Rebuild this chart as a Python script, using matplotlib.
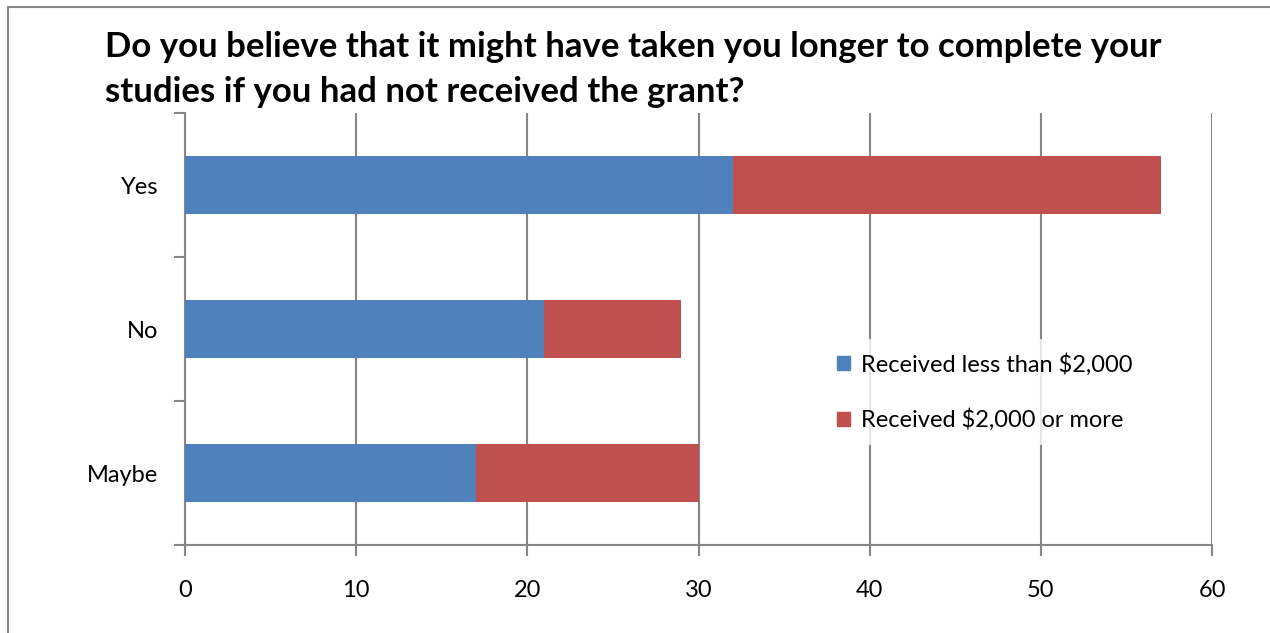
import matplotlib.pyplot as plt
from matplotlib.patches import Rectangle, Patch

categories = ['Maybe', 'No', 'Yes']
less_than_2000 = [17, 21, 32]
more_than_2000 = [13, 8, 25]
series_names = ['Received less than $2,000', 'Received $2,000 or more']
colors = ['#4F81BD', '#C0504D']
x_ticks = [0, 10, 20, 30, 40, 50, 60]
title_lines = ['Do you believe that it might have taken you longer to complete your',
               'studies if you had not received the grant?']

plt.rcParams['font.family'] = ['Lato', 'DejaVu Sans']

fig = plt.figure(figsize=(12.7, 6.33), dpi=100)
ax = fig.add_axes([185 / 1270, 88 / 633, 1027 / 1270, 432 / 633])

# outer chart border (only top/left visible in the crop)
fig.patches.append(Rectangle((8 / 1270, -0.1), 1.2, (633 - 7) / 633 + 0.1,
                             transform=fig.transFigure, fill=False,
                             edgecolor='#868686', linewidth=1.5))

y = range(len(categories))
ax.barh(y, less_than_2000, height=0.4, color=colors[0], zorder=3)
ax.barh(y, more_than_2000, left=less_than_2000, height=0.4, color=colors[1], zorder=3)

ax.set_xlim(0, 60)
ax.set_ylim(-0.5, 2.5)
ax.set_xticks(x_ticks)
ax.set_yticks(list(y))
ax.set_yticklabels(categories)
ax.set_yticks([-0.5, 0.5, 1.5, 2.5], minor=True)

ax.grid(axis='x', color='#868686', linewidth=1.5, zorder=0)
for s in ['top', 'right']:
    ax.spines[s].set_visible(False)
for s in ['left', 'bottom']:
    ax.spines[s].set_color('#868686')
    ax.spines[s].set_linewidth(1.5)

ax.tick_params(axis='x', direction='out', length=8, width=1.5, color='#868686',
               labelsize=17, pad=17)
ax.tick_params(axis='y', which='major', length=0, labelsize=17, pad=19)
ax.tick_params(axis='y', which='minor', direction='out', length=8, width=1.5,
               color='#868686')

# title, two lines placed at their baselines
fig.text(105 / 1270, 1 - 57 / 633, title_lines[0],
         fontsize=25, fontweight='bold', ha='left', va='baseline')
fig.text(105 / 1270, 1 - 102 / 633, title_lines[1],
         fontsize=25, fontweight='bold', ha='left', va='baseline')

handles = [Patch(color=c) for c in colors]
leg = ax.legend(handles, series_names, loc='center left',
                bbox_to_anchor=(811 / 1270, 1 - 392 / 633),
                bbox_transform=fig.transFigure, frameon=True, fontsize=17,
                handlelength=0.55, handleheight=0.55, handletextpad=0.45,
                labelspacing=1.4, borderpad=0.6, fancybox=False)
leg.get_frame().set_facecolor('white')
leg.get_frame().set_edgecolor('none')
leg.set_zorder(5)

fig.savefig('out.png', dpi=100)
